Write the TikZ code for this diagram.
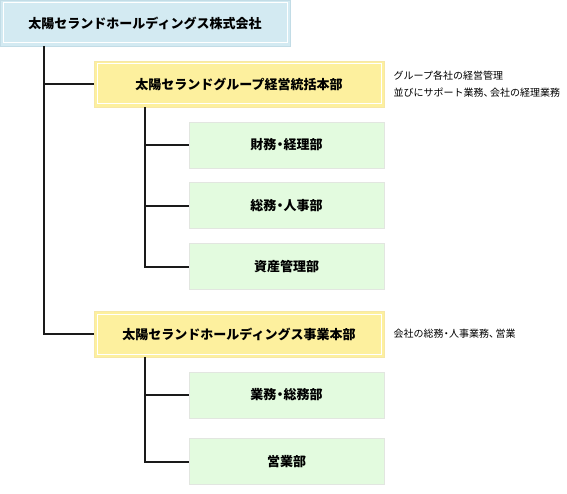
\documentclass[tikz,border=0pt]{standalone}
\usepackage{fontspec}
\setmainfont{Noto Sans CJK JP}
\usepackage{tikz}
\usetikzlibrary{positioning}
\usepackage{xcolor}
\definecolor{hdfill}{HTML}{D3EAF2}
\definecolor{hdline}{HTML}{C2DCE6}
\definecolor{grpfill}{HTML}{FDF09E}
\definecolor{grpline}{HTML}{F6E7A6}
\definecolor{secfill}{HTML}{E3FBDF}
\definecolor{secline}{HTML}{E2E6E0}
\definecolor{linkcol}{HTML}{1A1A1A}
\newcommand{\jpdot}{\kern-0.22em・\kern-0.22em}
\newcommand{\jpcomma}{、\kern-0.35em}

\tikzset{
  unitbox/.style={draw, line width=0.8pt, minimum height=46pt,
                  inner sep=0pt, font=\fontsize{13pt}{15pt}\selectfont\bfseries,
                  path picture={\draw[white, line width=1pt]
                    ([shift={(3pt,-3pt)}]path picture bounding box.north west)
                    rectangle
                    ([shift={(-3pt,3pt)}]path picture bounding box.south east);}},
  topbox/.style={unitbox, draw=hdline, fill=hdfill, minimum width=290pt},
  grpbox/.style={unitbox, draw=grpline, fill=grpfill, minimum width=290pt},
  secbox/.style={draw=secline, line width=0.8pt, fill=secfill,
                 minimum width=195pt, minimum height=46pt, inner sep=0pt,
                 font=\fontsize{13pt}{15pt}\selectfont\bfseries},
  note/.style={inner sep=0pt, align=left,
               font=\fontsize{10pt}{17pt}\selectfont},
  conn/.style={draw=linkcol, line width=1.8pt}
}

\begin{document}
\begin{tikzpicture}
  \useasboundingbox (0,0) rectangle (567pt,-494pt);

  % head company
  \node[topbox] (hd) at (145pt,-23pt) {太陽セランドホールディングス株式会社};

  % management division and its sections
  \node[grpbox] (grp) at (239pt,-84pt) {太陽セランドグループ経営統括本部};
  \node[secbox] (fin) at (286.5pt,-145pt) {財務\jpdot 経理部};
  \node[secbox, below=14pt of fin] (gen) {総務\jpdot 人事部};
  \node[secbox, below=14pt of gen] (asset) {資産管理部};
  \node[note, right=9pt of grp] (grpnote) {グループ各社の経営管理\\並びにサポート業務\jpcomma 会社の経理業務};

  % business division and its sections
  \node[grpbox] (biz) at (239pt,-334pt) {太陽セランドホールディングス事業本部};
  \node[secbox] (ops) at (286.5pt,-395pt) {業務\jpdot 総務部};
  \node[secbox, below=20pt of ops] (sales) {営業部};
  \node[note, right=9pt of biz] (biznote) {会社の総務\jpdot 人事業務\jpcomma 営業};

  % connectors
  \draw[conn] ([xshift=44pt]hd.south west) |- (grp.west);
  \draw[conn] ([xshift=44pt]hd.south west) |- (biz.west);
  \draw[conn] ([xshift=51pt]grp.south west) |- (fin.west);
  \draw[conn] ([xshift=51pt]grp.south west) |- (gen.west);
  \draw[conn] ([xshift=51pt]grp.south west) |- (asset.west);
  \draw[conn] ([xshift=51pt]biz.south west) |- (ops.west);
  \draw[conn] ([xshift=51pt]biz.south west) |- (sales.west);
\end{tikzpicture}
\end{document}
